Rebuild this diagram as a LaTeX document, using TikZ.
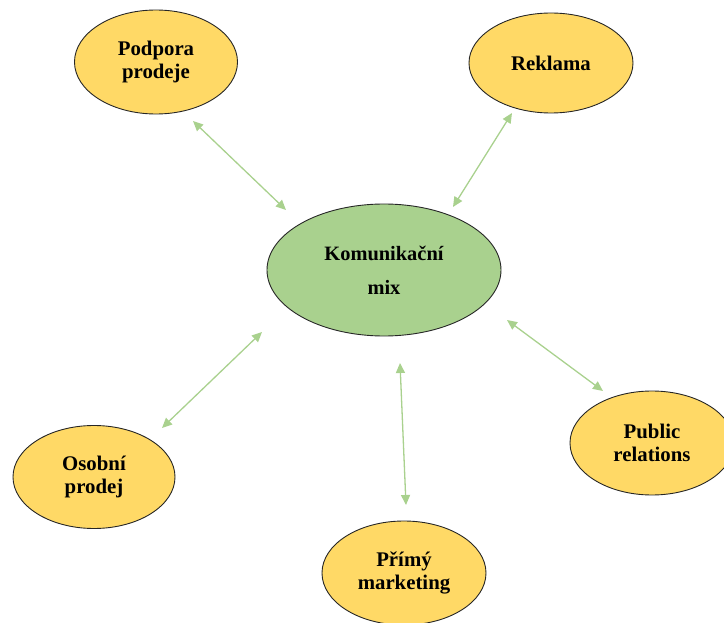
\documentclass[tikz,border=0pt]{standalone}
\usepackage{fontspec}
\setmainfont{Liberation Serif}
\usetikzlibrary{shapes.geometric,arrows.meta}
\definecolor{gold}{HTML}{FFD966}
\definecolor{lgreen}{HTML}{A9D18E}
\definecolor{agreen}{HTML}{A9D18E}
\tikzset{
  bub/.style={draw=black!85, line width=0.9pt, fill=gold, ellipse, inner sep=0pt,
    font=\fontsize{20.8}{22.5}\selectfont\bfseries, align=center},
  hub/.style={draw=black!85, line width=0.9pt, fill=lgreen, ellipse, inner sep=0pt,
    font=\fontsize{20.4}{34}\selectfont\bfseries, align=center},
  link/.style={draw=agreen, line width=1.3pt,
    {Triangle[length=10pt,width=9pt]}-{Triangle[length=10pt,width=9pt]}}
}
\begin{document}
\begin{tikzpicture}[x=1pt,y=-1pt]
\useasboundingbox (0,0) rectangle (724,623);
\clip (0,0) rectangle (724,623);
\node[bub, minimum width=163pt, minimum height=104pt] (pp) at (156,62) {Podpora\\prodeje};
\node[bub, minimum width=164pt, minimum height=100pt] (rk) at (551,63) {Reklama};
\node[hub, minimum width=234pt, minimum height=132pt] (km) at (384,270) {Komunikační\\mix};
\node[bub, minimum width=162pt, minimum height=103pt] (op) at (94,477) {Osobní\\prodej};
\node[bub, minimum width=164pt, minimum height=104pt] (pr) at (652,443) {Public\\relations};
\node[bub, minimum width=164pt, minimum height=104pt] (pm) at (404,573) {Přímý\\marketing};
\coordinate (a1) at (193,121); \coordinate (b1) at (286,210);
\coordinate (a2) at (512,113); \coordinate (b2) at (453,207);
\coordinate (a3) at (262,332); \coordinate (b3) at (162,428);
\coordinate (a4) at (507,320); \coordinate (b4) at (603,391);
\coordinate (a5) at (400,363); \coordinate (b5) at (406,505);
\draw[link] (a1) -- (b1);
\draw[link] (a2) -- (b2);
\draw[link] (a3) -- (b3);
\draw[link] (a4) -- (b4);
\draw[link] (a5) -- (b5);
\end{tikzpicture}
\end{document}
